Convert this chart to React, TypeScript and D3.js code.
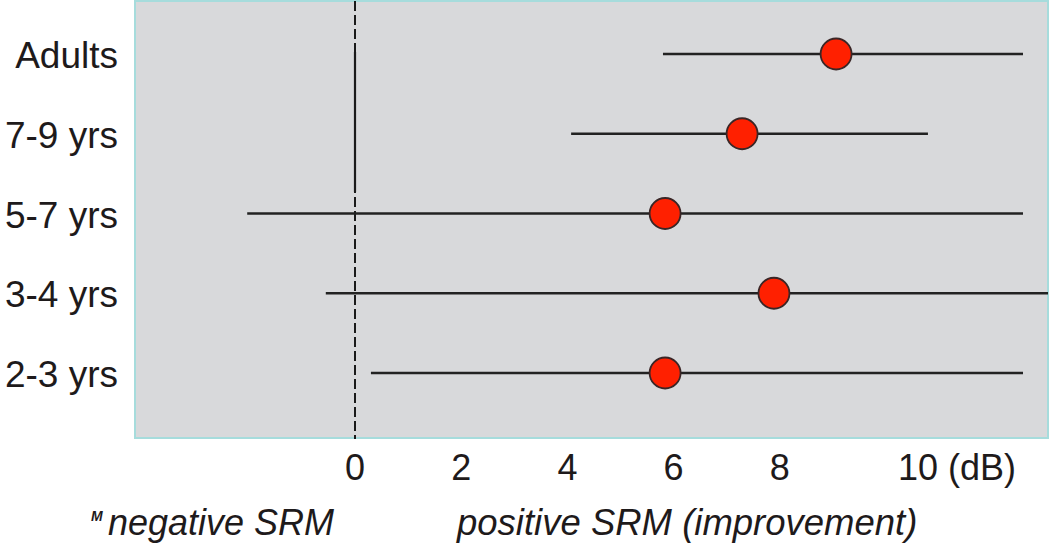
import React from "react";
import * as d3 from "d3";

const categories = ["Adults", "7-9 yrs", "5-7 yrs", "3-4 yrs", "2-3 yrs"];
const means = [9.06, 7.29, 5.84, 7.89, 5.84];
const lower = [5.8, 4.07, -2.03, -0.55, 0.3];
const upper = [12.58, 10.79, 12.58, 13.6, 12.58];
const tickValues = [0, 2, 4, 6, 8, 10];
const tickLabels = ["0", "2", "4", "6", "8", "10 (dB)"];
const bottomLeft = "negative SRM";
const bottomRight = "positive SRM (improvement)";

const W = 1050;
const H = 550;
const plot = { left: 135, top: 1, right: 1048, bottom: 438 };
const FONT = "'Liberation Sans', Arial, Helvetica, sans-serif";
const TEXT = "#1e1a1b";

export default function App() {
  const x = d3.scaleLinear().domain([0, 10]).range([355, 886]);
  const y = d3.scalePoint<string>().domain(categories).range([54, 373]);
  const step = y.step();
  const x0 = x(0);

  return (
    <svg
      width={W}
      height={H}
      viewBox={`0 0 ${W} ${H}`}
      style={{ position: "absolute", left: 0, top: 0, background: "#fff" }}
    >
      <defs>
        <clipPath id="plotClip">
          <rect x={plot.left} y={plot.top} width={plot.right - plot.left} height={plot.bottom - plot.top} />
        </clipPath>
      </defs>
      <rect
        x={plot.left}
        y={plot.top}
        width={plot.right - plot.left}
        height={plot.bottom - plot.top}
        fill="#d8d9db"
        stroke="#a6dcdc"
        strokeWidth={2}
      />
      {/* zero reference line */}
      <line x1={x0} x2={x0} y1={plot.top} y2={plot.bottom + 1} stroke="#1a1a1a" strokeWidth={2} strokeDasharray="10 4" />
      <line x1={x0} x2={x0} y1={(y(categories[0]) as number) - 2} y2={(y(categories[1]) as number) + step * 0.73} stroke="#1a1a1a" strokeWidth={2.2} />

      <g clipPath="url(#plotClip)">
        {categories.map((c, i) => (
          <line
            key={"e" + c}
            x1={x(lower[i])}
            x2={x(upper[i])}
            y1={y(c) as number}
            y2={y(c) as number}
            stroke="#222"
            strokeWidth={2.4}
          />
        ))}
        {categories.map((c, i) => (
          <circle
            key={"p" + c}
            cx={x(means[i])}
            cy={y(c) as number}
            r={15.5}
            fill="#ff2000"
            stroke="#3a2626"
            strokeWidth={1.8}
          />
        ))}
      </g>

      {categories.map((c) => (
        <text
          key={"l" + c}
          x={118}
          y={(y(c) as number) + 14}
          textAnchor="end"
          fontFamily={FONT}
          fontSize={37}
          fill={TEXT}
        >
          {c}
        </text>
      ))}

      {tickValues.map((v, i) => {
        const last = i === tickValues.length - 1;
        return (
          <text
            key={"t" + v}
            x={last ? x(v) + 12 : x(v)}
            y={480}
            textAnchor={last ? "start" : "middle"}
            fontFamily={FONT}
            fontSize={36}
            fill={TEXT}
          >
            {tickLabels[i]}
          </text>
        );
      })}

      <text x={91} y={521} fontFamily={FONT} fontSize={14} fontWeight="bold" fontStyle="italic" fill={TEXT}>
        M
      </text>
      <text x={108} y={535} fontFamily={FONT} fontSize={36} fontStyle="italic" fill={TEXT}>
        {bottomLeft}
      </text>
      <text x={457} y={535} fontFamily={FONT} fontSize={36.5} fontStyle="italic" fill={TEXT}>
        {bottomRight}
      </text>
    </svg>
  );
}
